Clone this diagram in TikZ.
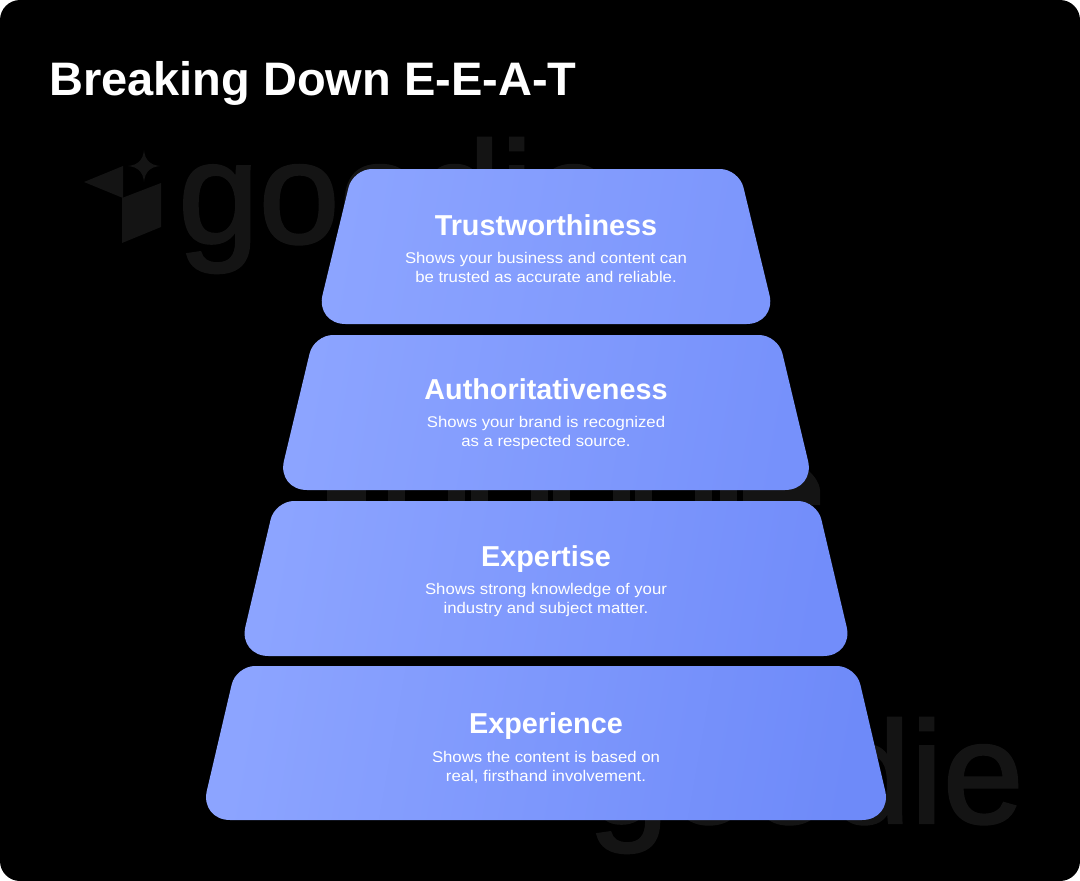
\documentclass[tikz,border=0pt]{standalone}
\usepackage{fontspec}
\usepackage{xcolor}
\usepackage{tikz}
\setmainfont{Liberation Sans}[FakeStretch=1.08, BoldFeatures={FakeStretch=1.0}]
\newfontfamily\wmfont[FakeBold=1.7]{Liberation Sans}
\definecolor{bandlight}{HTML}{8CA4FF}
\definecolor{bandT}{HTML}{7C96FC}
\definecolor{bandA}{HTML}{7691FB}
\definecolor{bandE}{HTML}{728DFA}
\definecolor{bandX}{HTML}{6E8AF9}
\definecolor{wmgray}{HTML}{141414}

\begin{document}
\begin{tikzpicture}[x=1pt, y=-1pt,
    band/.style={left color=bandlight, right color=#1, shading angle=80},
    wm/.style={text=wmgray, inner sep=0pt, font=\wmfont\fontsize{145}{145}\selectfont},
    headtext/.style={text=white, inner sep=0pt, font=\bfseries\fontsize{28.8}{32}\selectfont},
    bodytext/.style={text=white, inner sep=0pt, align=center, font=\fontsize{15.5}{19}\selectfont}]
     \useasboundingbox (0,0) rectangle (1080,881);
     \fill[white] (0,0) rectangle (1080,881);
     \fill[black, rounded corners=20pt] (0,0) rectangle (1080,881);

     % watermark
     \fill[wmgray] (84,182) -- (123,166) -- (123,198) -- cycle;
     \fill[wmgray] (122,198) -- (161,183) -- (161,227) -- (122,243) -- cycle;
     \fill[wmgray] (144,150) .. controls (145,160) and (150,165) .. (160,166)
        .. controls (150,167) and (145,172) .. (144,182)
        .. controls (143,172) and (138,167) .. (128,166)
        .. controls (138,165) and (143,160) .. (144,150) -- cycle;
     \node[wm, anchor=base west] (W1) at (178,243) {goodie};
     \node[wm, anchor=base west] (W3) at (588,823) {goodie};
     \fill[wmgray] (327,480) rectangle (366,505);
     \fill[wmgray] (388,480) rectangle (405,505);
     \fill[wmgray] (448,480) rectangle (465,505);
     \fill[wmgray] (471,480) rectangle (488,505);
     \fill[wmgray] (531,480) rectangle (548,505);
     \fill[wmgray] (553,480) rectangle (570,505);
     \fill[wmgray] (613,480) rectangle (630,505);
     \fill[wmgray] (635,480) rectangle (652,505);
     \fill[wmgray] (695,480) rectangle (712,505);
     \fill[wmgray] (720,480) rectangle (737,505);
     \fill[wmgray] (743,505) -- (820,505) -- (820,490) .. controls (819,482) and (815,477) .. (808,470) -- (743,470) -- cycle;

     % title
     \node[text=white, inner sep=0pt, anchor=base west, font=\bfseries\fontsize{47}{50}\selectfont] (title) at (49,95) {Breaking Down E-E-A-T};

     % bands
     \shade[band=bandT] (546,169) [rounded corners=19pt] -- (739,169) [rounded corners=30pt] -- (776.5,324) -- (315.5,324) [rounded corners=19pt] -- (353,169) [sharp corners] -- cycle;
     \shade[band=bandA] (546,335) [rounded corners=19pt] -- (778,335) [rounded corners=30pt] -- (815,490) -- (277,490) [rounded corners=19pt] -- (314,335) [sharp corners] -- cycle;
     \shade[band=bandE] (546,501) [rounded corners=19pt] -- (817,501) [rounded corners=30pt] -- (853.5,656) -- (238.5,656) [rounded corners=19pt] -- (275,501) [sharp corners] -- cycle;
     \shade[band=bandX] (546,666) [rounded corners=19pt] -- (856,666) [rounded corners=30pt] -- (892,820) -- (200,820) [rounded corners=19pt] -- (236,666) [sharp corners] -- cycle;

     % labels
     \node[headtext, anchor=base] (T) at (546,235) {Trustworthiness};
     \node[bodytext] (Tb) at (546,267) {Shows your business and content can\\be trusted as accurate and reliable.};
     \node[headtext, anchor=base] (A) at (546,399) {Authoritativeness};
     \node[bodytext] (Ab) at (546,433) {Shows your brand is recognized\\as a respected source.};
     \node[headtext, anchor=base] (E) at (546,566) {Expertise};
     \node[bodytext] (Eb) at (546,600) {Shows strong knowledge of your\\industry and subject matter.};
     \node[headtext, anchor=base] (X) at (546,733) {Experience};
     \node[bodytext] (Xb) at (546,767) {Shows the content is based on\\real, firsthand involvement.};
     \end{tikzpicture}
\end{document}
